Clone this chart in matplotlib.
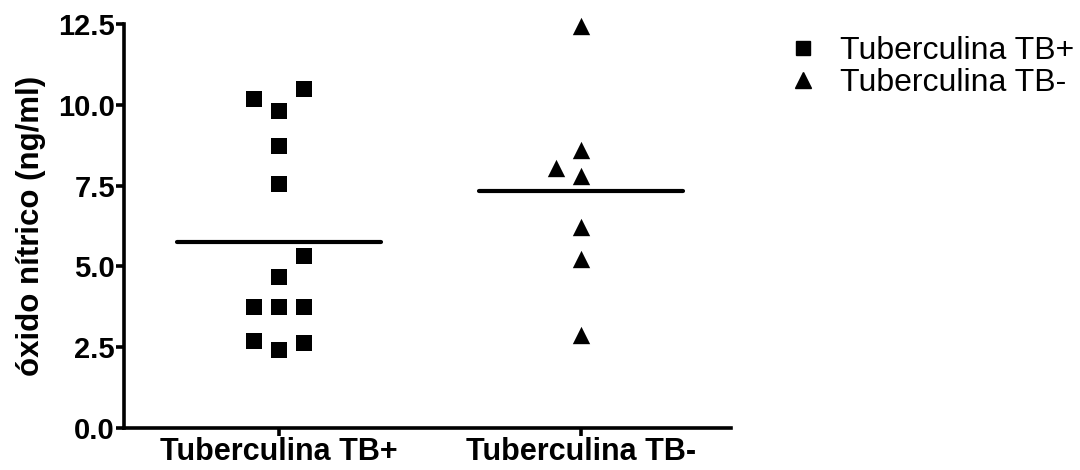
import matplotlib

matplotlib.use("Agg")
import matplotlib.pyplot as plt
from matplotlib.lines import Line2D

plt.rcParams["font.family"] = ["Liberation Sans", "DejaVu Sans"]

# values (ng/ml)
groups = ["Tuberculina TB+", "Tuberculina TB-"]
tb_pos = [10.17, 10.49, 9.82, 8.73, 7.54, 5.32, 4.68, 3.73, 3.73, 3.75, 2.70, 2.41, 2.62]
tb_pos_jitter = [-1, 1, 0, 0, 0, 1, 0, -1, 0, 1, -1, 0, 1]
tb_neg = [12.45, 8.60, 8.03, 7.81, 6.23, 5.22, 2.88]
tb_neg_jitter = [0, 0, -1, 0, 0, 0, 0]
means = [5.75, 7.33]
yticks = [0.0, 2.5, 5.0, 7.5, 10.0, 12.5]

JIT = 0.082

fig = plt.figure(figsize=(10.8, 4.7), dpi=100)
ax = fig.add_axes([0.1148, 0.0894, 0.677 - 0.1148, 0.949 - 0.0894])

ax.scatter([0 + j * JIT for j in tb_pos_jitter], tb_pos, marker="s", s=11 ** 2,
           color="black", linewidths=0, clip_on=False)
ax.scatter([1 + j * JIT for j in tb_neg_jitter], tb_neg, marker="^", s=12.5 ** 2,
           color="black", linewidths=0, clip_on=False)
for i, m in enumerate(means):
    ax.plot([i - 0.337, i + 0.337], [m, m], color="black", lw=3, solid_capstyle="round")

ax.set_xlim(-0.513, 1.497)
ax.set_ylim(0, 12.5)
ax.set_xticks([0, 1])
ax.set_xticklabels(groups, fontsize=22, fontweight="bold")
ax.set_yticks(yticks)
ax.set_yticklabels([f"{v:.1f}" for v in yticks], fontsize=21, fontweight="bold")
ax.set_ylabel("óxido nítrico (ng/ml)", fontsize=22.5, fontweight="bold", labelpad=9)

for side in ["top", "right"]:
    ax.spines[side].set_visible(False)
for side in ["left", "bottom"]:
    ax.spines[side].set_linewidth(2.6)
ax.tick_params(direction="out", length=6, width=2.6, pad=0.5)

handles = [
    Line2D([], [], marker="s", ls="", color="black", markersize=10),
    Line2D([], [], marker="^", ls="", color="black", markersize=11),
]
fig.legend(handles, groups, loc="upper left", bbox_to_anchor=(0.695, 0.984),
           frameon=False, fontsize=23, handletextpad=0.41, labelspacing=0.05,
           handlelength=1.5)

fig.savefig("out.png", dpi=100)
